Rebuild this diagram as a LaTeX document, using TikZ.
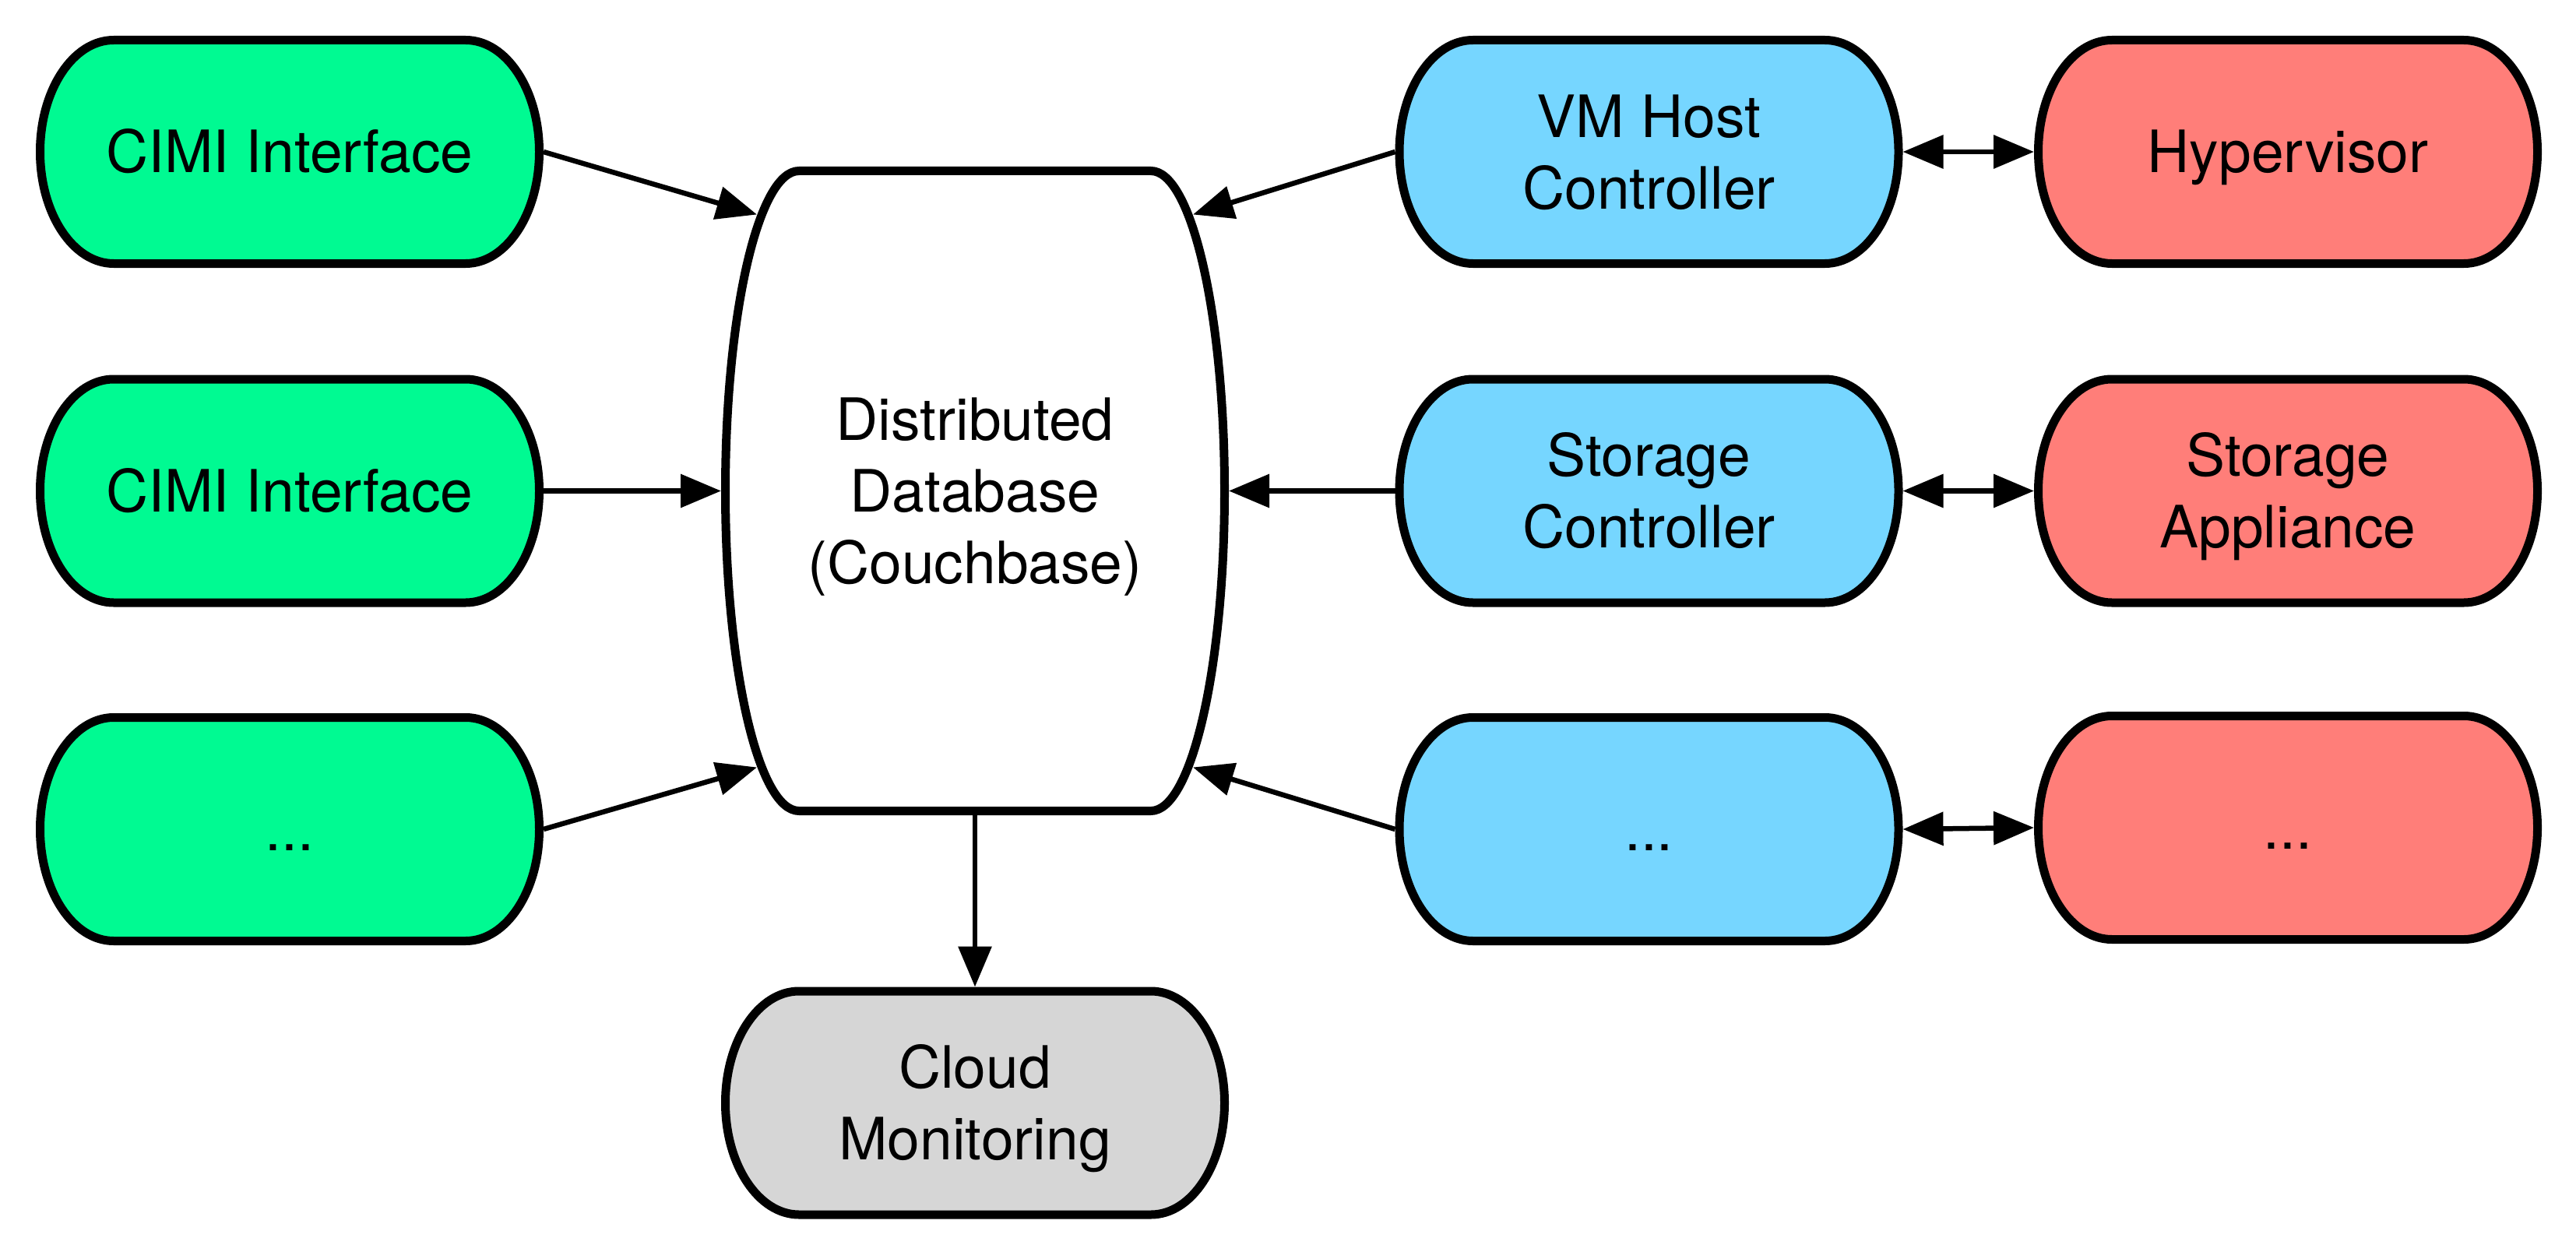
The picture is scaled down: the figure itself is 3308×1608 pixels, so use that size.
\documentclass[tikz,border=0pt]{standalone}
\usepackage{fontspec}
\setmainfont{TeX Gyre Heros}
\usetikzlibrary{arrows.meta}
\definecolor{seafoam}{HTML}{00FA92}
\definecolor{sky}{HTML}{76D6FF}
\definecolor{salmon}{HTML}{FF7E79}
\definecolor{silver}{HTML}{D6D6D6}
\tikzset{
  boxline/.style={draw=black, line width=11pt, line join=round},
  lbl/.style={draw=none, inner sep=0pt, outer sep=0pt, align=center,
    font=\fontsize{75pt}{92pt}\selectfont, text depth=0pt},
  arr/.style={line width=6.5pt, -{Triangle[length=52pt,width=42pt]}},
  darr/.style={line width=6.5pt, {Triangle[length=52pt,width=42pt]}-{Triangle[length=52pt,width=42pt]}},
}
% [#1 lines], #2 name, #3 cx, #4 cy, #5 outer width, #6 outer height, #7 fill, #8 text
\newcommand\drawcap[8][1]{%
  \pgfmathsetmacro\capA{#5/2-5.5}%
  \pgfmathsetmacro\capF{#5/2-100}%
  \pgfmathsetmacro\capB{#6/2-5.5}%
  \pgfmathsetmacro\capK{0.5523*(\capA-\capF)}%
  \pgfmathsetmacro\capL{0.5523*\capB}%
  \pgfmathsetmacro\capH{54+92*(#1-1)}%
  \path[boxline, fill=#7]
    ({#3-\capF},{#4-\capB}) -- ({#3+\capF},{#4-\capB})
    .. controls ({#3+\capF+\capK},{#4-\capB}) and ({#3+\capA},{#4-\capL}) .. ({#3+\capA},{#4})
    .. controls ({#3+\capA},{#4+\capL}) and ({#3+\capF+\capK},{#4+\capB}) .. ({#3+\capF},{#4+\capB})
    -- ({#3-\capF},{#4+\capB})
    .. controls ({#3-\capF-\capK},{#4+\capB}) and ({#3-\capA},{#4+\capL}) .. ({#3-\capA},{#4})
    .. controls ({#3-\capA},{#4-\capL}) and ({#3-\capF-\capK},{#4-\capB}) .. cycle;
  \node[lbl, text height=\capH pt, minimum width=#5pt, minimum height=#6pt] (#2) at (#3,#4) {#8};
}
\begin{document}
\begin{tikzpicture}[x=1pt,y=-1pt]
\useasboundingbox[fill=white] (0,0) rectangle (3308,1608);
% left column
\drawcap{g1}{372}{195}{652}{298}{seafoam}{CIMI Interface}
\drawcap{g2}{372}{630.5}{652}{298}{seafoam}{CIMI Interface}
\drawcap{g3}{372}{1065}{652}{298}{seafoam}{...}
% database
\drawcap[3]{db}{1252}{630.5}{652}{833}{white}{Distributed\\Database\\(Couchbase)}
\drawcap[2]{cm}{1252}{1416.5}{652}{298}{silver}{Cloud\\Monitoring}
% controllers
\drawcap[2]{b1}{2117.5}{195}{652}{298}{sky}{VM Host\\Controller}
\drawcap[2]{b2}{2117.5}{630.5}{652}{298}{sky}{Storage\\Controller}
\drawcap{b3}{2117.5}{1065}{652}{298}{sky}{...}
% backends
\drawcap{r1}{2938}{195}{652}{298}{salmon}{Hypervisor}
\drawcap[2]{r2}{2938}{630.5}{652}{298}{salmon}{Storage\\Appliance}
\drawcap{r3}{2938}{1063}{652}{298}{salmon}{...}
% attach points on the database outline
\coordinate (dbA) at (972,275.5);
\coordinate (dbC) at (972,985.5);
\coordinate (dbB) at (1532,275.5);
\coordinate (dbD) at (1532,985.5);
% connectors
\draw[arr] (g1.east) -- (dbA);
\draw[arr] (g2.east) -- (db.west);
\draw[arr] (g3.east) -- (dbC);
\draw[arr] (b1.west) -- (dbB);
\draw[arr] (b2.west) -- (db.east);
\draw[arr] (b3.west) -- (dbD);
\draw[arr] (db.south) -- (cm.north);
\draw[darr] (b1.east) -- (r1.west);
\draw[darr] (b2.east) -- (r2.west);
\draw[darr] (b3.east) -- (r3.west);
\end{tikzpicture}
\end{document}
